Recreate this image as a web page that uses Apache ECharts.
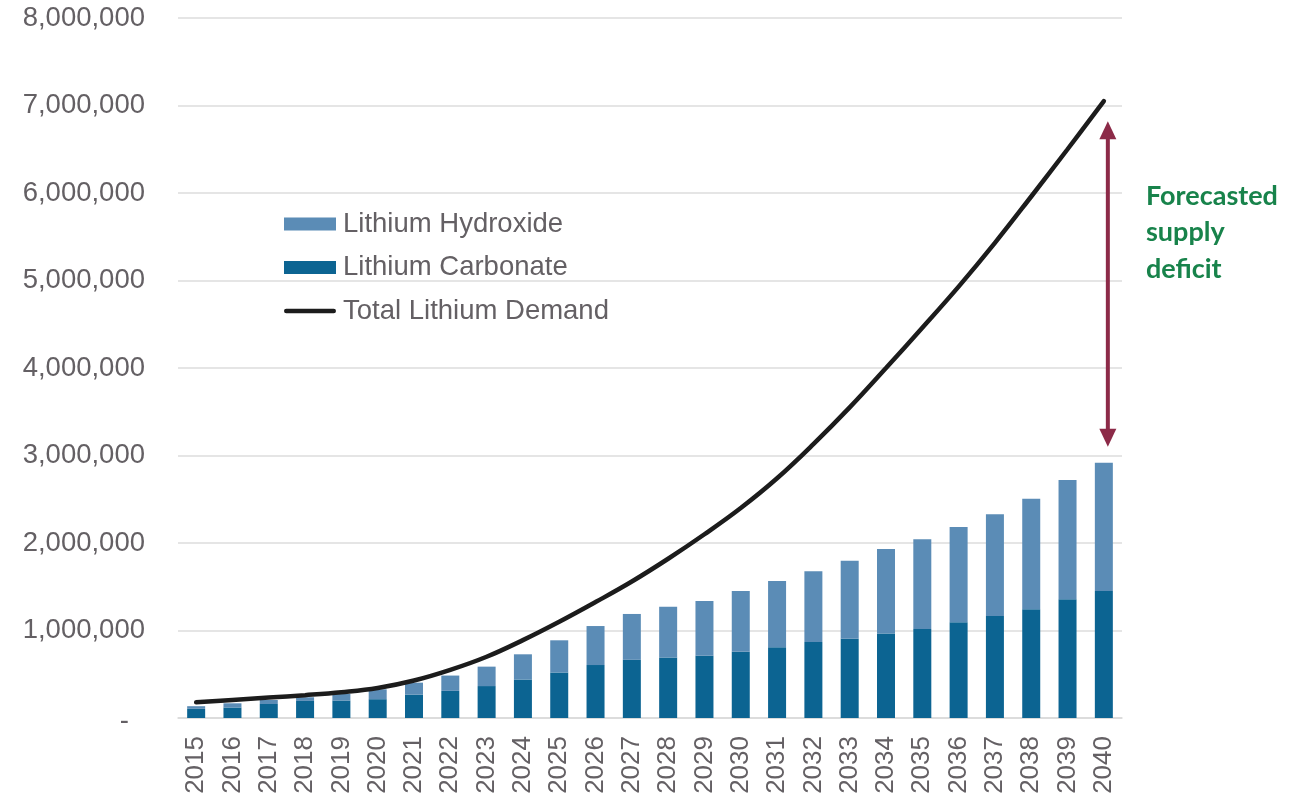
<!DOCTYPE html>
<html>
<head>
<meta charset="utf-8">
<script src="https://cdn.jsdelivr.net/npm/echarts@6/dist/echarts.min.js"></script>
<style>
html,body{margin:0;padding:0;background:#fff;}
#chart{width:1296px;height:801px;}
</style>
</head>
<body>
<div id="chart"></div>
<script>
const years = ['2015','2016','2017','2018','2019','2020','2021','2022','2023','2024','2025','2026','2027','2028','2029','2030','2031','2032','2033','2034','2035','2036','2037','2038','2039','2040'];
const carbonate = [105000,120000,160000,195000,200000,215000,268000,310000,365000,440000,520000,605000,665000,692000,712000,756000,810000,870000,905000,965000,1016000,1094000,1166000,1242000,1356000,1451000];
const hydroxide = [30000,48000,46000,42000,75000,113000,136000,175000,222000,288000,368000,446000,524000,580000,625000,695000,756000,806000,893000,966000,1026000,1089000,1162000,1264000,1364000,1467000];
const totalDemand = [180000,207000,234000,261000,294000,342000,428000,550000,700000,890000,1100000,1325000,1560000,1820000,2100000,2400000,2740000,3130000,3550000,4000000,4460000,4930000,5430000,5960000,6500000,7050000];
const yTicks = [0,1000000,2000000,3000000,4000000,5000000,6000000,7000000,8000000];
const annotationLines = ['Forecasted', 'supply', 'deficit'];

const chart = echarts.init(document.getElementById('chart'));
const labelColor = '#646064';
const option = {
  animation: false,
  backgroundColor: '#ffffff',
  textStyle: { fontFamily: 'Liberation Sans, Arial, sans-serif' },
  grid: { left: 178, right: 174, top: 18, bottom: 83, containLabel: false },
  legend: {
    orient: 'vertical',
    left: 279,
    top: 205,
    itemWidth: 52,
    itemHeight: 13,
    itemGap: 15.5,
    textStyle: { fontSize: 27.5, color: labelColor, fontFamily: 'Liberation Sans, Arial, sans-serif', padding: [0,0,0,2] },
    data: [
      { name: 'Lithium Hydroxide', icon: 'rect' },
      { name: 'Lithium Carbonate', icon: 'rect' },
      { name: 'Total Lithium Demand', icon: 'path://M2,0 H50 A2,2 0 0 1 50,4.6 H2 A2,2 0 0 1 2,0 Z' }
    ]
  },
  xAxis: {
    type: 'category',
    data: years,
    axisTick: { show: false },
    axisLine: { lineStyle: { color: '#d9d9d9', width: 1.5 } },
    axisLabel: { rotate: 90, fontSize: 26, color: labelColor, margin: 18, interval: 0 }
  },
  yAxis: {
    type: 'value',
    min: 0,
    max: 8000000,
    interval: 1000000,
    axisLine: { show: false },
    axisTick: { show: false },
    splitLine: { lineStyle: { color: '#dcdcdc', width: 1.5 } },
    axisLabel: {
      fontSize: 27.5,
      color: labelColor,
      margin: 33,
      formatter: function (v) {
        if (v === 0) return '{z|-}';
        return v.toLocaleString('en-US');
      },
      rich: { z: { fontSize: 27.5, color: labelColor, padding: [6, 16, 0, 0] } }
    }
  },
  series: [
    {
      name: 'Lithium Carbonate',
      type: 'bar',
      stack: 'supply',
      barWidth: 18,
      itemStyle: { color: '#0c6492' },
      data: carbonate
    },
    {
      name: 'Lithium Hydroxide',
      type: 'bar',
      stack: 'supply',
      barWidth: 18,
      itemStyle: { color: '#5b8cb6' },
      data: hydroxide
    },
    {
      name: 'Total Lithium Demand',
      type: 'line',
      smooth: 0.4,
      symbol: 'none',
      lineStyle: { color: '#1c1c1c', width: 4.5, cap: 'round' },
      itemStyle: { color: '#1c1c1c' },
      data: totalDemand,
      z: 5
    }
  ]
};
chart.setOption(option);

// Annotation arrow between supply (2040 bar top) and demand (2040 line)
const last = years.length - 1;
const supplyTop = carbonate[last] + hydroxide[last];
const pBottom = chart.convertToPixel({ gridIndex: 0 }, [last, supplyTop]);
const pTop = chart.convertToPixel({ gridIndex: 0 }, [last, totalDemand[last]]);
const ax = pBottom[0] + 4;
const y1 = pTop[1] + 20;
const y2 = pBottom[1] - 16;
const arrowColor = '#8c2a48';
const head = 18, halfW = 8.5;
chart.setOption({
  graphic: [
    { type: 'line', shape: { x1: ax, y1: y1 + head - 2, x2: ax, y2: y2 - head + 2 }, style: { stroke: arrowColor, lineWidth: 4 }, z: 10 },
    { type: 'polygon', shape: { points: [[ax, y1], [ax - halfW, y1 + head], [ax + halfW, y1 + head]] }, style: { fill: arrowColor }, z: 10 },
    { type: 'polygon', shape: { points: [[ax, y2], [ax - halfW, y2 - head], [ax + halfW, y2 - head]] }, style: { fill: arrowColor }, z: 10 },
    {
      type: 'text',
      left: 1146,
      top: 178,
      style: {
        text: annotationLines.join('\n'),
        fill: '#18834b',
        font: 'bold 27px Lato, "Open Sans", sans-serif',
        lineHeight: 36.5
      },
      z: 10
    }
  ]
});
</script>
</body>
</html>
